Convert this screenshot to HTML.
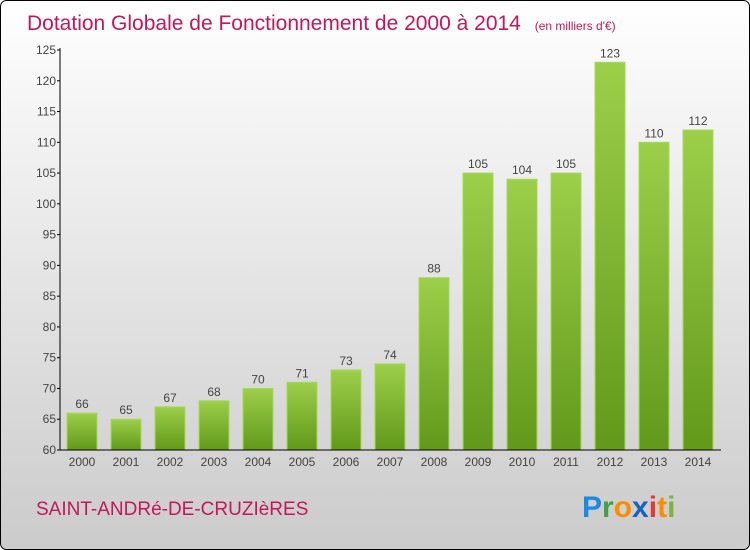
<!DOCTYPE html>
<html><head><meta charset="utf-8"><style>
body{margin:0;width:750px;height:550px;overflow:hidden}
svg{display:block}
text{font-family:"Liberation Sans",sans-serif}
</style></head><body>
<svg width="750" height="550">
<defs>
<linearGradient id="bg" x1="0" y1="0" x2="0" y2="1"><stop offset="0" stop-color="#ffffff"/><stop offset="1" stop-color="#cbcbcb"/></linearGradient>
<linearGradient id="bar" x1="0" y1="0" x2="0" y2="1"><stop offset="0" stop-color="#9ccf4a"/><stop offset="1" stop-color="#62991a"/></linearGradient>
</defs>
<rect x="0.5" y="0.5" width="749" height="549" rx="6" fill="url(#bg)" stroke="#000"/>
<text x="27" y="30" font-size="21" fill="#c2185b">Dotation Globale de Fonctionnement de 2000 à 2014 <tspan font-size="12" dx="8">(en milliers d'€)</tspan></text>
<g id="plot"></g>
<text x="36" y="515" font-size="19" fill="#c2185b">SAINT-ANDRé-DE-CRUZIèRES</text>
<text x="582" y="517" font-size="30" font-weight="bold"><tspan fill="#1e88e5">P</tspan><tspan fill="#43a047">r</tspan><tspan fill="#fb8c00">o</tspan><tspan fill="#1565c0">x</tspan><tspan fill="#e53935">i</tspan><tspan fill="#fb8c00">t</tspan><tspan fill="#7cb342">i</tspan></text>
</svg>
<script>
const years=["2000","2001","2002","2003","2004","2005","2006","2007","2008","2009","2010","2011","2012","2013","2014"];
const values=[66,65,67,68,70,71,73,74,88,105,104,105,123,110,112];
const yTicks=[60,65,70,75,80,85,90,95,100,105,110,115,120,125];
const NS="http://www.w3.org/2000/svg";
const g=document.getElementById('plot');
const y0=450,y1=50,vmin=60,vmax=125,xl=60,xr=721;
const y=v=>y0-(v-vmin)/(vmax-vmin)*(y0-y1);
const step=44,x=i=>82+i*step;
function mk(t,a,txt){const e=document.createElementNS(NS,t);for(const k in a)e.setAttribute(k,a[k]);if(txt!=null)e.textContent=txt;g.appendChild(e);return e;}
values.forEach((v,i)=>{
 const r=mk('rect',{x:x(i)-15,y:y(v),width:30,height:y0-y(v),fill:'url(#bar)',stroke:'#a8d85a','stroke-width':1});
 
 
 const t=mk('text',{x:x(i),y:y(v)-5,'text-anchor':'middle','font-size':12,fill:'#444'},String(v));
 
 
 const xl2=mk('text',{x:x(i),y:466,'text-anchor':'middle','font-size':12,fill:'#444'},years[i]);
 
 
});
yTicks.forEach(v=>{
 mk('line',{x1:xl-3,x2:xl,y1:y(v),y2:y(v),stroke:'#000'});
 const t=mk('text',{x:xl-4,y:y(v)+4,'text-anchor':'end','font-size':12,fill:'#444'},String(v));
 
 
});
const ya=mk('line',{x1:xl,x2:xl,y1:y1-2,y2:y0,stroke:'#000'});


const xa=mk('line',{x1:xl,x2:xr,y1:y0,y2:y0,stroke:'#000'});


</script>
</body></html>
